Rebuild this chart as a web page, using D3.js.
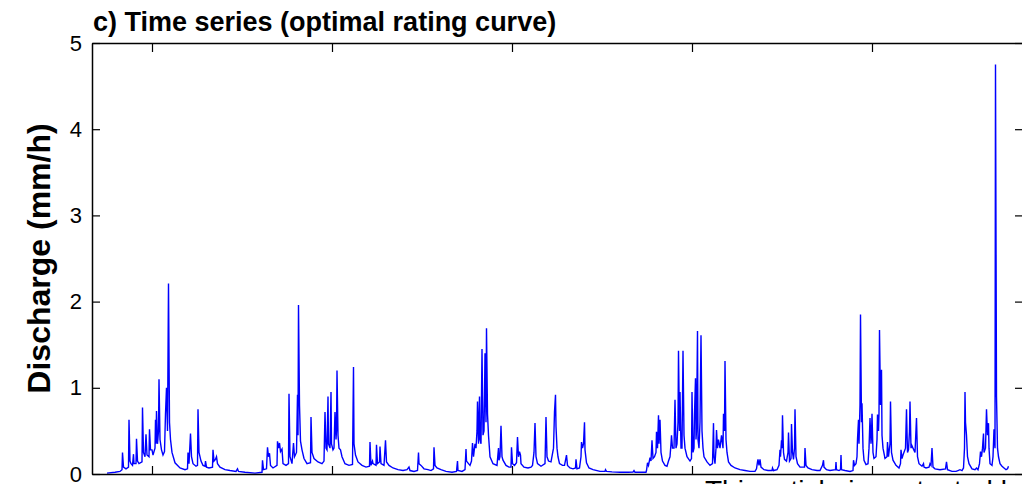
<!DOCTYPE html>
<html>
<head>
<meta charset="utf-8">
<script src="https://cdn.jsdelivr.net/npm/d3@7"></script>
<style>
  body { margin: 0; background: #fff; overflow: hidden; }
  svg text { font-family: "Liberation Sans", Arial, Helvetica, sans-serif; }
</style>
</head>
<body>
<div id="chart"></div>
<script>

// y ticks (mm/h)
var yTicks = [0, 1, 2, 3, 4, 5];
// x ticks, days since start of record (one every 360 days)
var xTicks = [120, 480, 840, 1200, 1560];

// discharge series, [day, mm/h]
// first wet season
var flowPart1 = [
  [30, 0.01], [46, 0.02], [56, 0.03], [60, 0.05], [61, 0.25], [63, 0.08], [68, 0.06], [73, 0.08],
  [74, 0.63], [76, 0.15], [78, 0.12], [81, 0.1], [83, 0.23], [84, 0.12], [88, 0.12], [89, 0.41],
  [91, 0.15], [94, 0.12], [100, 0.14], [101, 0.77], [103, 0.25], [106, 0.2], [108, 0.46], [110, 0.22],
  [114, 0.2], [115, 0.52], [117, 0.28], [120, 0.28], [122, 0.22], [126, 0.3], [127, 0.63], [128, 0.35],
  [129, 0.73], [131, 0.35], [133, 0.5], [134, 1.10], [136, 0.4], [139, 0.28], [142, 0.22], [145, 0.26],
  [147, 0.7], [149, 1.0], [151, 0.5], [153, 2.21], [155, 0.6], [157, 0.4], [160, 0.25], [166, 0.13],
  [176, 0.07], [186, 0.05], [191, 0.06], [192, 0.25], [194, 0.12], [197, 0.47], [199, 0.2], [202, 0.12],
  [208, 0.09], [211, 0.1], [212, 0.75], [214, 0.25], [218, 0.15], [222, 0.1], [226, 0.09], [227, 0.15],
  [229, 0.08], [234, 0.07], [241, 0.08], [242, 0.28], [244, 0.15], [247, 0.17], [249, 0.2], [251, 0.12],
  [256, 0.08], [266, 0.05], [276, 0.04], [288, 0.03], [291, 0.06], [293, 0.03], [306, 0.02], [326, 0.01],
  [340, 0.02]
];

// second and third wet seasons
var flowPart2 = [
  [341, 0.16], [343, 0.05], [349, 0.06], [351, 0.31], [353, 0.2], [355, 0.24], [357, 0.1], [362, 0.07],
  [370, 0.1], [371, 0.38], [373, 0.3], [375, 0.36], [377, 0.26], [380, 0.29], [382, 0.12], [388, 0.1],
  [393, 0.12], [394, 0.93], [396, 0.2], [400, 0.12], [403, 0.36], [405, 0.2], [409, 0.25], [411, 0.92],
  [412, 0.45], [413, 1.96], [415, 0.8], [417, 0.38], [420, 0.28], [424, 0.18], [430, 0.12], [437, 0.13],
  [438, 0.66], [440, 0.25], [444, 0.18], [452, 0.14], [460, 0.12], [464, 0.15], [466, 0.72], [468, 0.3],
  [470, 0.28], [472, 0.9], [473, 0.35], [476, 0.3], [478, 0.95], [479, 0.35], [482, 0.28], [484, 0.3],
  [486, 0.72], [488, 0.4], [489, 0.5], [490, 1.2], [492, 0.45], [494, 0.3], [497, 0.28], [500, 0.2],
  [506, 0.12], [514, 0.1], [521, 0.11], [523, 1.24], [524, 0.35], [527, 0.22], [532, 0.14], [540, 0.1],
  [548, 0.08], [555, 0.09], [556, 0.37], [558, 0.1], [561, 0.15], [562, 0.12], [568, 0.1], [569, 0.34],
  [571, 0.12], [575, 0.14], [576, 0.32], [578, 0.12], [584, 0.1], [587, 0.39], [589, 0.14], [594, 0.1],
  [602, 0.07], [612, 0.05], [622, 0.04], [630, 0.05], [634, 0.08], [636, 0.04], [644, 0.03], [651, 0.04],
  [653, 0.25], [654, 0.12], [658, 0.1], [664, 0.06], [672, 0.05], [678, 0.04], [683, 0.06], [684, 0.31],
  [686, 0.1], [690, 0.07], [698, 0.05], [708, 0.03], [720, 0.02], [729, 0.03], [731, 0.15], [732, 0.04],
  [740, 0.03], [746, 0.05], [748, 0.29], [749, 0.15], [753, 0.12], [756, 0.1], [759, 0.15], [761, 0.36],
  [763, 0.2], [766, 0.35], [768, 0.3], [770, 0.5], [771, 0.84], [773, 0.35], [775, 0.9], [776, 0.4],
  [778, 0.35], [780, 1.45], [782, 0.45], [784, 0.5], [785, 0.9], [786, 1.40], [788, 0.6], [789, 1.69],
  [791, 0.7], [793, 0.45], [796, 0.2], [802, 0.12], [810, 0.1], [813, 0.3], [814, 0.16], [816, 0.2],
  [818, 0.56], [820, 0.2], [822, 0.16], [828, 0.1], [834, 0.08], [838, 0.08], [839, 0.31], [841, 0.12],
  [845, 0.1], [849, 0.13], [851, 0.43], [853, 0.2], [855, 0.26], [857, 0.22], [858, 0.12], [864, 0.08],
  [872, 0.07], [878, 0.08], [881, 0.1], [884, 0.25], [886, 0.59], [888, 0.2], [891, 0.12], [898, 0.09],
  [906, 0.12], [908, 0.66], [910, 0.2], [913, 0.15], [918, 0.14], [923, 0.3], [925, 0.72], [927, 0.92],
  [928, 0.55], [930, 0.3], [932, 0.2], [935, 0.12], [941, 0.1], [945, 0.1], [949, 0.22], [951, 0.1],
  [956, 0.07], [962, 0.06], [967, 0.07], [968, 0.17], [970, 0.06], [975, 0.07], [978, 0.2], [979, 0.37],
  [981, 0.3], [983, 0.35], [985, 0.6], [986, 0.28], [989, 0.13], [994, 0.07], [1002, 0.05], [1016, 0.03],
  [1026, 0.03], [1027, 0.05], [1029, 0.03], [1040, 0.025], [1056, 0.02], [1072, 0.02], [1082, 0.022],
  [1084, 0.04], [1086, 0.02], [1096, 0.02], [1108, 0.02]
];

// fourth and fifth wet seasons
var flowPart3 = [
  [1109, 0.04], [1111, 0.13], [1113, 0.1], [1116, 0.19], [1118, 0.15], [1120, 0.39], [1122, 0.18],
  [1125, 0.2], [1128, 0.25], [1129, 0.49], [1131, 0.3], [1133, 0.68], [1134, 0.35], [1136, 0.63],
  [1138, 0.25], [1141, 0.15], [1146, 0.1], [1150, 0.09], [1153, 0.15], [1156, 0.2], [1158, 0.35],
  [1159, 0.45], [1161, 0.3], [1164, 0.3], [1166, 0.86], [1168, 0.3], [1170, 0.35], [1172, 0.6],
  [1173, 1.43], [1175, 0.5], [1176, 0.95], [1178, 0.3], [1180, 0.3], [1182, 1.43], [1184, 0.45],
  [1186, 0.3], [1190, 0.2], [1196, 0.15], [1199, 0.18], [1200, 0.95], [1202, 0.25], [1204, 0.3],
  [1205, 0.7], [1207, 1.11], [1208, 0.4], [1209, 0.5], [1211, 1.66], [1212, 0.4], [1214, 0.3],
  [1216, 0.6], [1218, 1.61], [1220, 0.5], [1222, 0.3], [1224, 0.2], [1230, 0.14], [1236, 0.1],
  [1241, 0.12], [1243, 0.59], [1244, 0.2], [1246, 0.12], [1248, 0.3], [1249, 0.51], [1251, 0.3],
  [1253, 0.4], [1256, 0.3], [1259, 0.45], [1262, 0.3], [1263, 0.7], [1265, 0.5], [1266, 1.31],
  [1268, 0.4], [1270, 0.25], [1273, 0.14], [1278, 0.1], [1286, 0.07], [1296, 0.05], [1306, 0.04],
  [1316, 0.03], [1326, 0.03], [1329, 0.06], [1331, 0.14], [1332, 0.17], [1334, 0.1], [1336, 0.17],
  [1338, 0.08], [1344, 0.05], [1352, 0.04], [1360, 0.04], [1361, 0.07], [1363, 0.04], [1370, 0.05],
  [1374, 0.1], [1376, 0.28], [1377, 0.2], [1379, 0.39], [1380, 0.3], [1381, 0.68], [1383, 0.25],
  [1385, 0.17], [1389, 0.15], [1392, 0.25], [1393, 0.48], [1395, 0.15], [1398, 0.18], [1399, 0.58],
  [1401, 0.25], [1403, 0.17], [1405, 0.3], [1406, 0.75], [1408, 0.2], [1411, 0.12], [1416, 0.08],
  [1425, 0.08], [1426, 0.30], [1428, 0.1], [1432, 0.07], [1440, 0.05], [1450, 0.04], [1456, 0.04],
  [1461, 0.1], [1463, 0.16], [1464, 0.08], [1469, 0.05], [1476, 0.04], [1487, 0.05], [1488, 0.14],
  [1489, 0.05], [1494, 0.04], [1497, 0.05], [1498, 0.22], [1499, 0.05], [1506, 0.04], [1516, 0.03],
  [1522, 0.04], [1523, 0.16], [1525, 0.1], [1528, 0.12], [1530, 0.2], [1531, 0.4], [1533, 0.63],
  [1534, 0.35], [1536, 0.8], [1537, 1.85], [1539, 0.6], [1540, 0.82], [1542, 0.3], [1544, 0.16],
  [1548, 0.11], [1552, 0.12], [1554, 0.3], [1556, 0.65], [1558, 0.35], [1559, 0.45], [1560, 0.70],
  [1562, 0.25], [1564, 0.18], [1568, 0.2], [1570, 0.4], [1571, 0.69], [1573, 0.5], [1574, 0.7],
  [1575, 1.67], [1577, 0.8], [1579, 1.21], [1580, 0.45], [1582, 0.3], [1586, 0.18], [1590, 0.2],
  [1591, 0.37], [1593, 0.2], [1596, 0.35], [1597, 0.84], [1599, 0.25], [1602, 0.16], [1608, 0.1],
  [1614, 0.07], [1617, 0.12], [1618, 0.28], [1620, 0.18], [1622, 0.22], [1627, 0.3], [1629, 0.75],
  [1631, 0.25], [1633, 0.28], [1635, 0.5], [1636, 0.84], [1638, 0.3], [1639, 0.34], [1642, 0.3],
  [1646, 0.25], [1649, 0.65], [1651, 0.2], [1654, 0.12], [1660, 0.09], [1663, 0.12], [1664, 0.08],
  [1668, 0.07], [1674, 0.08], [1676, 0.12], [1678, 0.1], [1680, 0.3], [1682, 0.08], [1686, 0.06],
  [1696, 0.05], [1707, 0.06], [1709, 0.14], [1711, 0.05], [1720, 0.03], [1728, 0.03], [1732, 0.04],
  [1736, 0.05], [1740, 0.04], [1743, 0.07], [1745, 0.3], [1746, 0.95], [1747, 0.6], [1749, 0.45],
  [1751, 0.2], [1754, 0.12], [1760, 0.06], [1766, 0.05], [1769, 0.07], [1772, 0.05], [1775, 0.12],
  [1777, 0.26], [1779, 0.2], [1781, 0.3], [1783, 0.47], [1784, 0.25], [1787, 0.3], [1789, 0.75],
  [1791, 0.45], [1793, 0.59], [1794, 0.3], [1796, 0.12], [1800, 0.1], [1802, 0.2], [1804, 0.52],
  [1806, 0.3], [1807, 4.75], [1809, 0.9], [1811, 0.3], [1813, 0.2], [1816, 0.12], [1820, 0.09],
  [1824, 0.07], [1828, 0.05], [1831, 0.06], [1833, 0.09]
];

var flow = flowPart1.concat(flowPart2, flowPart3);

// page size and plot box
var width = 1022;
var height = 484;
var plotLeft = 92;
var plotRight = 1023;
var plotTop = 43;
var plotBottom = 474;

var svg = d3
  .select("#chart")
  .append("svg")
  .attr("width", width)
  .attr("height", height);

// scales
var xScale = d3.scaleLinear().domain([0, 1862]).range([plotLeft, plotRight]);
var yScale = d3.scaleLinear().domain([0, 5]).range([plotBottom, plotTop]);

// the hydrograph
var flowLine = d3
  .line()
  .x(function(d) { return xScale(d[0]); })
  .y(function(d) { return yScale(d[1]); });

svg
  .append("path")
  .datum(flow)
  .attr("fill", "none")
  .attr("stroke", "#0000ff")
  .attr("stroke-width", 1.4)
  .attr("stroke-linejoin", "miter")
  .attr("d", flowLine);

// axes, ticks pointing inwards like matlab
var yAxis = d3.axisLeft(yScale).tickValues(yTicks).tickSize(-8).tickSizeOuter(0)
  .tickPadding(10).tickFormat(d3.format("d"));
var yAxisRight = d3.axisRight(yScale).tickValues(yTicks).tickSize(-8).tickSizeOuter(0).tickFormat("");
var xAxis = d3.axisBottom(xScale).tickValues(xTicks).tickSize(-8).tickSizeOuter(0).tickFormat("");
var xAxisTop = d3.axisTop(xScale).tickValues(xTicks).tickSize(-9).tickSizeOuter(0).tickFormat("");

svg.append("g").attr("class", "yAxis")
  .attr("transform", "translate(" + plotLeft + ",0)").call(yAxis);
svg.append("g").attr("class", "yAxisRight")
  .attr("transform", "translate(" + plotRight + ",0)").call(yAxisRight);
svg.append("g").attr("class", "xAxis")
  .attr("transform", "translate(0," + plotBottom + ")").call(xAxis);
svg.append("g").attr("class", "xAxisTop")
  .attr("transform", "translate(0," + plotTop + ")").call(xAxisTop);

svg.selectAll(".domain").attr("stroke", "#000").attr("stroke-width", 1.5);
svg.selectAll(".tick line").attr("stroke", "#000").attr("stroke-width", 1.2);

svg.select(".yAxis").selectAll("text")
  .attr("font-size", 22)
  .attr("fill", "#000")
  .style("font-family", "'Liberation Sans', Arial, sans-serif");

// title
svg
  .append("text")
  .attr("x", 93)
  .attr("y", 31)
  .attr("font-size", 27)
  .attr("font-weight", "bold")
  .text("c) Time series (optimal rating curve)");

// y label
svg
  .append("text")
  .attr("transform", "translate(50," + (plotTop + plotBottom) / 2 + ")rotate(-90)")
  .attr("text-anchor", "middle")
  .attr("font-size", 32)
  .attr("font-weight", "bold")
  .text("Discharge (mm/h)");

// journal watermark, cut by the page edge
svg
  .append("text")
  .attr("x", 705)
  .attr("y", 500)
  .attr("font-size", 28)
  .text("This article is protected by");

</script>
</body>
</html>
